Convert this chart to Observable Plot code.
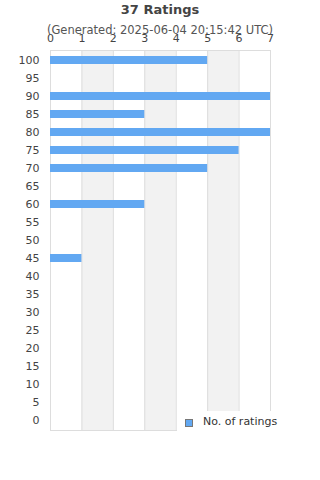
<!DOCTYPE html>
<html>
<head>
<meta charset="utf-8">
<script src="https://cdn.jsdelivr.net/npm/d3@7"></script>
<script src="https://cdn.jsdelivr.net/npm/@observablehq/plot@0.6"></script>
<style>
  html, body { margin: 0; padding: 0; background: #fff; }
  #wrap { position: relative; width: 320px; height: 480px; font-family: "DejaVu Sans", sans-serif; overflow: hidden; }
  #title { position: absolute; left: 0; top: 2px; width: 320px; text-align: center; font-size: 13px; font-weight: bold; color: #444; }
  #subtitle { position: absolute; left: 0; top: 23px; width: 320px; text-align: center; font-size: 11.5px; color: #555; }
  #legend { position: absolute; left: 177px; top: 411px; width: 143px; height: 40px; background: #fff; font-size: 11px; color: #333; }
  #legend .sw { position: absolute; left: 8px; top: 8px; width: 6px; height: 6px; border: 1px solid #777; }
  #legend .lb { position: absolute; left: 26px; top: 4px; white-space: nowrap; }
  svg { position: absolute; left: 0; top: 0; }
</style>
</head>
<body>
<div id="wrap">
  <div id="chart"></div>
  <div id="title"></div>
  <div id="subtitle"></div>
  <div id="legend"><div class="sw"></div><div class="lb"></div></div>
</div>
<script>
const titleText = "37 Ratings";
const subtitleText = "(Generated: 2025-06-04 20:15:42 UTC)";
const seriesName = "No. of ratings";
const ratings = ["100","95","90","85","80","75","70","65","60","55","50","45","40","35","30","25","20","15","10","5","0"];
const counts =  [5, 0, 7, 3, 7, 6, 5, 0, 3, 0, 0, 1, 0, 0, 0, 0, 0, 0, 0, 0, 0];
const xTicks = [0, 1, 2, 3, 4, 5, 6, 7];
const bandStarts = [1, 3, 5];
const barColor = "#62a8f2";

const data = ratings.map((r, i) => ({rating: r, count: counts[i]}));
const bands = bandStarts.map(s => ({x1: s, x2: s + 1}));

document.getElementById("title").textContent = titleText;
document.getElementById("subtitle").textContent = subtitleText;
document.querySelector("#legend .lb").textContent = seriesName;
document.querySelector("#legend .sw").style.background = barColor;

const chart = Plot.plot({
  width: 320,
  height: 480,
  marginLeft: 50,
  marginRight: 50,
  marginTop: 50,
  marginBottom: 50,
  style: {fontFamily: "DejaVu Sans, sans-serif", fontSize: "11px", color: "#444", background: "transparent"},
  x: {domain: [0, 7], axis: null},
  y: {domain: ratings, paddingInner: 0.56, paddingOuter: 0.28, axis: null},
  marks: [
    Plot.rect(bands, {x1: "x1", x2: "x2", fill: "#f2f2f2"}),
    Plot.ruleX(xTicks, {stroke: "#ddd", strokeWidth: 1}),
    Plot.frame({stroke: "#ddd"}),
    Plot.barX(data.filter(d => d.count > 0), {x: "count", y: "rating", fill: barColor}),
    Plot.axisX(xTicks, {anchor: "top", tickSize: 0, tickPadding: 9, label: null, fill: "#444", fontSize: 11}),
    Plot.axisY({tickSize: 0, tickPadding: 11, label: null, fill: "#444", fontSize: 11})
  ]
});
document.getElementById("chart").appendChild(chart);
</script>
</body>
</html>
